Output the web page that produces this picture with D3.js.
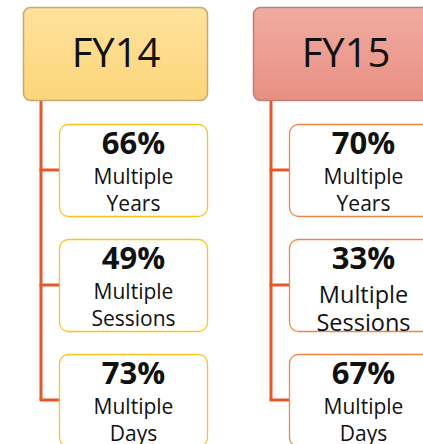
<!DOCTYPE html>
<html><head><meta charset="utf-8">
<script src="https://cdn.jsdelivr.net/npm/d3@7"></script>
<style>html,body{margin:0;padding:0;background:#fff;overflow:hidden}svg{display:block}</style>
</head><body>
<script>
const years = ["FY14", "FY15"];
const metrics = ["Multiple Years", "Multiple Sessions", "Multiple Days"];
const fy14Values = [66, 49, 73];
const fy15Values = [70, 33, 67];
const valuesByYear = [fy14Values, fy15Values];

const W = 423, H = 444;
const svg = d3.select("body").append("svg").attr("width", W).attr("height", H);
const defs = svg.append("defs");
const grads = [["g14", "#fee29c", "#fdd57a"], ["g15", "#f0aca2", "#e98f82"]];
grads.forEach(([id, a, b]) => {
  const g = defs.append("linearGradient").attr("id", id).attr("x1", 0).attr("y1", 0).attr("x2", 0).attr("y2", 1);
  g.append("stop").attr("offset", "0%").attr("stop-color", a);
  g.append("stop").attr("offset", "100%").attr("stop-color", b);
});
const headerStroke = ["#c6a970", "#bb8179"];
const childStroke = ["#fcc31e", "#ee8545"];
const fam = "'Open Sans', sans-serif";

// column scale
const x = d3.scaleBand().domain(years).range([23, 23 + 2 * 230]).paddingInner(0);
const headerW = 184, headerH = 93, headerY = 7;
const childW = 148, childH = 92;
// row scale (child box top)
const y = d3.scaleBand().domain(metrics).range([124, 124 + 3 * 115]);

years.forEach((yr, i) => {
  const x0 = x(yr);
  const g = svg.append("g");
  const lineX = x0 + 18;
  const childX = x0 + 36;
  // connector
  const lastMid = y(metrics[2]) + 46;
  g.append("line").attr("x1", lineX).attr("x2", lineX).attr("y1", headerY + headerH).attr("y2", lastMid)
    .attr("stroke", "#e4572a").attr("stroke-width", 3);
  metrics.forEach(m => {
    g.append("line").attr("x1", lineX - 1.5).attr("x2", childX).attr("y1", y(m) + 46).attr("y2", y(m) + 46)
      .attr("stroke", "#e4572a").attr("stroke-width", 3);
  });
  // header
  g.append("rect").attr("x", x0 + 0.5).attr("y", headerY + 0.5).attr("width", headerW).attr("height", headerH)
    .attr("rx", 7).attr("fill", `url(#${grads[i][0]})`).attr("stroke", headerStroke[i]).attr("stroke-width", 1.5);
  g.append("text").attr("x", x0 + headerW / 2 + 1).attr("y", headerY + 60).attr("text-anchor", "middle")
    .attr("font-family", fam).attr("font-size", 40).attr("fill", "#111").text(yr);
  // children
  metrics.forEach((m, j) => {
    const top = y(m);
    const big = (i === 1 && j === 1);
    g.append("rect").attr("x", childX + 0.5).attr("y", top + 0.5).attr("width", childW).attr("height", childH)
      .attr("rx", 9).attr("fill", "#fff").attr("stroke", childStroke[i]).attr("stroke-width", 1.3);
    const cx = childX + childW / 2 + 0.5;
    g.append("text").attr("x", cx).attr("y", top + 30).attr("text-anchor", "middle")
      .attr("font-family", fam).attr("font-weight", "bold").attr("font-size", 31).attr("fill", "#111")
      .text(valuesByYear[i][j] + "%");
    const words = m.split(" ");
    const fs = big ? 23.5 : 21;
    const b1 = big ? 64 : 60, b2 = big ? 92 : 86.5;
    g.append("text").attr("x", cx).attr("y", top + b1).attr("text-anchor", "middle")
      .attr("font-family", fam).attr("font-size", fs).attr("fill", "#111").text(words[0]);
    g.append("text").attr("x", cx).attr("y", top + b2).attr("text-anchor", "middle")
      .attr("font-family", fam).attr("font-size", fs).attr("fill", "#111").text(words[1]);
  });
});
</script>
</body></html>
